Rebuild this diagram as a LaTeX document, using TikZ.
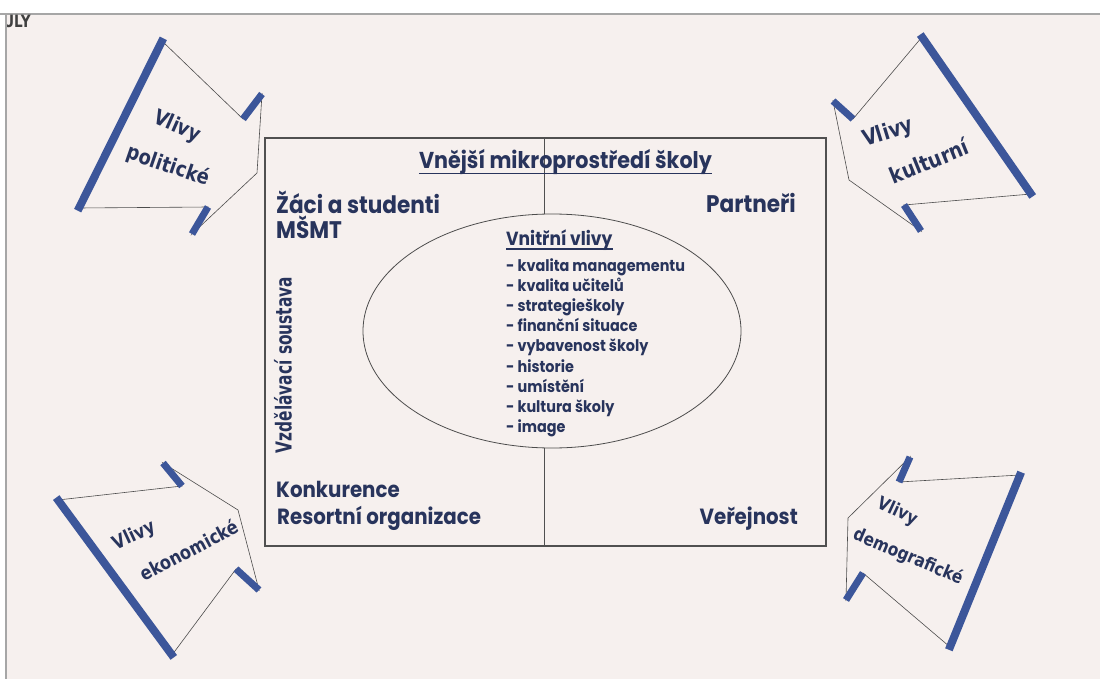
\documentclass[tikz,border=0pt]{standalone}
\usepackage{fontspec}
\newfontfamily\pop{Poppins}[FakeStretch=0.9]
\newfontfamily\vlivfont{DejaVu Sans}[FakeStretch=0.85]
\newfontfamily\vzfont{DejaVu Sans}[FakeStretch=0.7]
\newfontfamily\ulyfont{DejaVu Sans}[FakeStretch=0.8]
\usetikzlibrary{shapes.geometric}
\definecolor{bg}{RGB}{246,240,238}
\definecolor{ink}{RGB}{40,52,92}
\definecolor{barblue}{RGB}{60,86,154}
\definecolor{framec}{RGB}{80,80,80}
\begin{document}
\begin{tikzpicture}[x=1pt,y=-1pt,
  lbl/.style={font=\pop\bfseries\fontsize{24}{28}\selectfont, text=ink, inner sep=0},
  lblb/.style={font=\pop\bfseries\fontsize{22}{26}\selectfont, text=ink, inner sep=0},
  item/.style={font=\pop\bfseries\fontsize{16}{19}\selectfont, text=ink, inner sep=0, anchor=base west},
  vliv/.style={font=\vlivfont\bfseries\fontsize{#1}{24}\selectfont, text=ink, inner sep=0},
  vliv/.default=19,
  outl/.style={draw=gray!60!black, line width=0.6},
  mainbar/.style={draw=barblue, line width=8, shorten <=-3, shorten >=-3},
  shbar/.style={draw=barblue, line width=7},
  uline/.style={draw=ink, line width=1.3}]
\useasboundingbox (0,0) rectangle (1100,679);
\fill[white] (0,0) rectangle (1100,679);
\fill[bg] (6,14) rectangle (1100,679);
\draw[gray!70, line width=1.8] (0,14) -- (1100,14);
\draw[gray!70, line width=1.2] (6,14) -- (6,679);
\begin{scope}
\clip (7,15) rectangle (60,40);
\node[font=\ulyfont\bfseries\fontsize{17}{19}\selectfont, text=black!75, inner sep=0, anchor=base west] (uly) at (3,28) {ULY};
\end{scope}
% main box
\node[draw=framec, line width=1.2, minimum width=561, minimum height=408, inner sep=0] (box) at (545.5,342) {};
\node[draw=gray!60!black, line width=0.8, ellipse, minimum width=378, minimum height=234, inner sep=0] (inner) at (552,331) {};
\coordinate (vtop) at (544,138);
\coordinate (vbot) at (544,546);
\draw[framec, line width=0.9] (vtop) -- (vtop |- inner.north);
\draw[framec, line width=0.9] (vbot) -- (vbot |- inner.south);
% texts
\node[lbl, font=\pop\bfseries\fontsize{23}{27}\selectfont, anchor=base] (title) at (565.5,169) {Vnější mikroprostředí školy};
\draw[uline] ([yshift=-4.5pt]title.base west) -- ([yshift=-4.5pt]title.base east);
\node[lbl, anchor=base west] (zaci) at (276,214) {Žáci a studenti};
\node[lbl, anchor=base west] (msmt) at (276,239) {MŠMT};
\node[lbl, anchor=base east] (partneri) at (796,213) {Partneři};
\node[lblb, anchor=base west] (konk) at (276,497) {Konkurence};
\node[lblb, anchor=base west] (resort) at (277,524) {Resortní organizace};
\node[lblb, anchor=base east] (verej) at (798,524) {Veřejnost};
\node[item, font=\pop\bfseries\fontsize{19}{22}\selectfont] (vnitrni) at (506,245) {Vnitřní vlivy};
\draw[uline] ([yshift=-4pt]vnitrni.base west) -- ([yshift=-4pt]vnitrni.base east);
\foreach \t [count=\i] in {- kvalita managementu,- kvalita učitelů,- strategieškoly,- finanční situace,- vybavenost školy,- historie,- umístění,- kultura školy,- image}
  \node[item] (it\i) at (506,{271+20.2*(\i-1)}) {\t};
\node[font=\vzfont\bfseries\fontsize{22}{26}\selectfont, text=ink, inner sep=0, rotate=90] (vs) at (283,365) {Vzdělávací soustava};
% arrow: politicke
\coordinate (pA) at (162,41);  \coordinate (pB) at (79,208);
\coordinate (pC) at (243,119); \coordinate (pE) at (262,94);
\coordinate (pT) at (257,173); \coordinate (pF) at (192,234);
\coordinate (pD) at (208,207);
\draw[outl] (pA) -- (pC) -- (pE) -- (pT) -- (pF) -- (pD) -- (pB) -- cycle;
\draw[mainbar] (pB) -- (pA);
\draw[shbar] (pC) -- (pE);
\draw[shbar] (pD) -- (pF);
\node[vliv=21, rotate=-24] (p1) at (177,127) {Vlivy};
\node[vliv=21, rotate=-19] (p2) at (168,166) {politické};
% arrow: kulturni
\coordinate (kA) at (922,37);  \coordinate (kB) at (1031,194);
\coordinate (kC) at (853,119); \coordinate (kE) at (833,101);
\coordinate (kT) at (849,180); \coordinate (kF) at (921,231);
\coordinate (kD) at (904,205);
\draw[outl] (kA) -- (kC) -- (kE) -- (kT) -- (kF) -- (kD) -- (kB) -- cycle;
\draw[mainbar] (kB) -- (kA);
\draw[shbar] (kC) -- (kE);
\draw[shbar] (kD) -- (kF);
\node[vliv=22, rotate=17] (k1) at (888,133) {Vlivy};
\node[vliv=22, rotate=22] (k2) at (929,161) {kulturní};
% arrow: ekonomicke
\coordinate (eA) at (58,500);  \coordinate (eB) at (172,655);
\coordinate (eC) at (182,486); \coordinate (eE) at (163,463);
\coordinate (eT) at (238,510); \coordinate (eF) at (259,590);
\coordinate (eD) at (236,569);
\draw[outl] (eA) -- (eC) -- (eE) -- (eT) -- (eF) -- (eD) -- (eB) -- cycle;
\draw[mainbar] (eB) -- (eA);
\draw[shbar] (eC) -- (eE);
\draw[shbar] (eD) -- (eF);
\node[vliv=19, rotate=25] (e1) at (134,536) {Vlivy};
\node[vliv=19, rotate=28] (e2) at (189,550) {ekonomické};
% arrow: demograficke
\coordinate (dA) at (1020,475); \coordinate (dB) at (950,647);
\coordinate (dC) at (899,482);  \coordinate (dE) at (910,457);
\coordinate (dT) at (848,518);  \coordinate (dF) at (846,600);
\coordinate (dD) at (863,573);
\draw[outl] (dA) -- (dC) -- (dE) -- (dT) -- (dF) -- (dD) -- (dB) -- cycle;
\draw[mainbar] (dB) -- (dA);
\draw[shbar] (dC) -- (dE);
\draw[shbar] (dD) -- (dF);
\node[vliv=18, rotate=-25] (d1) at (897,512) {Vlivy};
\node[vliv=18, rotate=-23] (d2) at (908,557) {demografické};
\end{tikzpicture}
\end{document}
